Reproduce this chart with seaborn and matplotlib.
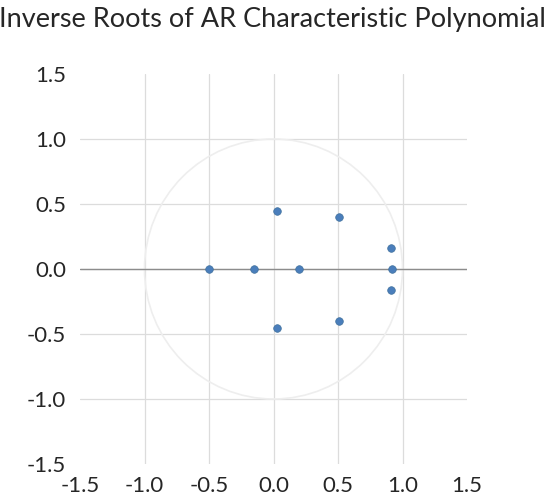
import matplotlib
matplotlib.use("Agg")
import matplotlib.pyplot as plt
import seaborn as sns
import pandas as pd
from matplotlib.patches import Circle

# inverse roots (real, imaginary)
real_part = [-0.50, -0.15, 0.20, 0.92, 0.91, 0.91, 0.03, 0.03, 0.51, 0.51]
imag_part = [0.00, 0.00, 0.00, 0.00, 0.16, -0.16, 0.45, -0.45, 0.40, -0.40]
tick_values = [-1.5, -1.0, -0.5, 0.0, 0.5, 1.0, 1.5]
tick_labels = ["-1.5", "-1.0", "-0.5", "0.0", "0.5", "1.0", "1.5"]

roots_df = pd.DataFrame({'real': real_part, 'imag': imag_part})

sns.set_style("white")
plt.rcParams['font.family'] = ['Lato', 'DejaVu Sans']

fig = plt.figure(figsize=(5.5, 4.99), dpi=100)
ax = fig.add_axes([80/550, 1 - 464/499, 387/550, 390/499])

ax.add_patch(Circle((0, 0), 1.0, fill=False, edgecolor='#eeeeee', linewidth=1.2, zorder=1))
ax.axhline(0, color='#8c8c8c', linewidth=1.0, zorder=2)

sns.scatterplot(x='real', y='imag', data=roots_df, color='#4a7ebb', s=30,
                edgecolor='#41719c', linewidth=0.5, ax=ax, zorder=3)

ax.set_xlim(-1.5, 1.5)
ax.set_ylim(-1.5, 1.5)
ax.set_xticks(tick_values)
ax.set_xticklabels(tick_labels)
ax.set_yticks(tick_values)
ax.set_yticklabels(tick_labels)
ax.tick_params(axis='both', length=0, labelsize=16, colors='#262626')
ax.tick_params(axis='x', pad=9)
ax.tick_params(axis='y', pad=10)
ax.set_xlabel('')
ax.set_ylabel('')

ax.grid(True, color='#dcdcdc', linewidth=0.9)
for gl in [ax.xaxis.get_gridlines(), ax.yaxis.get_gridlines()]:
    gl[0].set_visible(False)
    gl[-1].set_visible(False)
for sp in ax.spines.values():
    sp.set_visible(False)

fig.suptitle('Inverse Roots of AR Characteristic Polynomial', x=272/550, y=0.985,
             fontsize=19.5, color='#262626')

fig.savefig('out.png', dpi=100)
